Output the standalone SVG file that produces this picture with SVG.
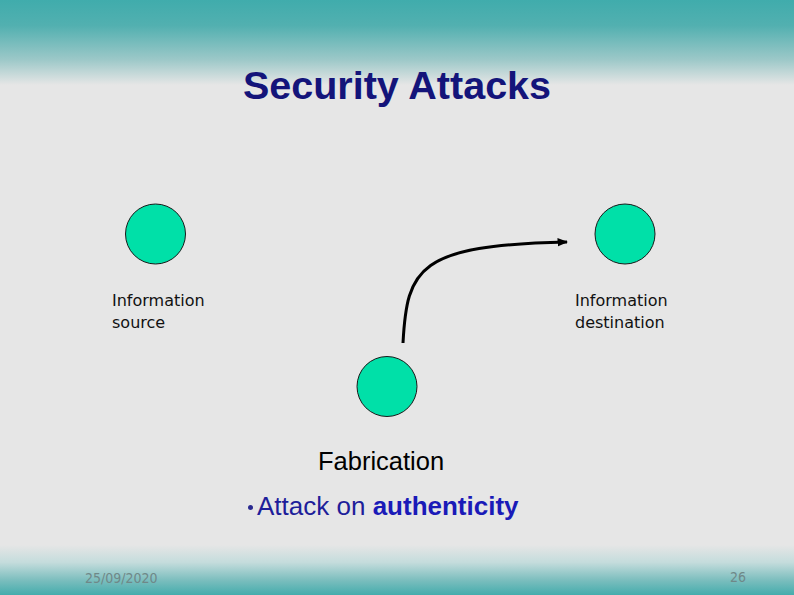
<svg xmlns="http://www.w3.org/2000/svg" width="794" height="595" viewBox="0 0 794 595">
<defs>
<linearGradient id="topg" x1="0" y1="0" x2="0" y2="1">
<stop offset="0" stop-color="#40acac"/>
<stop offset="0.3" stop-color="#52b0b0"/>
<stop offset="0.7" stop-color="#9cc8c8"/>
<stop offset="1" stop-color="#e6e6e6"/>
</linearGradient>
<linearGradient id="botg" x1="0" y1="0" x2="0" y2="1">
<stop offset="0" stop-color="#e6e6e6"/>
<stop offset="0.35" stop-color="#c4dcdc"/>
<stop offset="0.7" stop-color="#7cbebe"/>
<stop offset="1" stop-color="#44acac"/>
</linearGradient>
<marker id="arr" viewBox="0 0 10 10" refX="9" refY="5" markerWidth="3.5" markerHeight="3.5" orient="auto" markerUnits="strokeWidth">
<path d="M0,1 L10,5 L0,9 Z" fill="#000"/>
</marker>
<style>
.node{fill:#00e0a8;stroke:#1a1a1a;stroke-width:1}
.lbl{font-family:"DejaVu Sans",Verdana,sans-serif;font-size:16px;fill:#111}
.foot{font-family:"Liberation Sans Narrow","DejaVu Sans Condensed",sans-serif;font-size:14px;fill:#6f8888}
</style>
</defs>
<rect width="794" height="595" fill="#e6e6e6"/>
<rect width="794" height="85" fill="url(#topg)"/>
<rect y="545" width="794" height="50" fill="url(#botg)"/>
<text x="397" y="99" text-anchor="middle" font-family="Liberation Sans,Arial,sans-serif" font-weight="bold" font-size="39.5" fill="#14147a">Security Attacks</text>
<g id="source">
<circle class="node" cx="155.5" cy="234" r="30"/>
<text class="lbl" x="112" y="306">Information</text>
<text class="lbl" x="112" y="328">source</text>
</g>
<g id="destination">
<circle class="node" cx="625" cy="234" r="30"/>
<text class="lbl" x="575" y="306">Information</text>
<text class="lbl" x="575" y="328">destination</text>
</g>
<g id="attacker">
<circle class="node" cx="387" cy="386.5" r="30"/>
</g>
<g id="connectors">
<path d="M403,343 C407,268 418,245 567,242" fill="none" stroke="#000" stroke-width="3" marker-end="url(#arr)"/>
</g>
<text x="318" y="470" font-family="Liberation Sans,Arial,sans-serif" font-size="25.5" fill="#000">Fabrication</text>
<g font-family="Liberation Sans,Arial,sans-serif" font-size="26">
<circle cx="250.5" cy="507.5" r="2.5" fill="#2a2a90"/>
<text x="257" y="515" fill="#1e1e9a">Attack on <tspan font-weight="bold" fill="#1a1ab8">authenticity</tspan></text>
</g>
<text class="foot" x="85" y="583">25/09/2020</text>
<text class="foot" x="746" y="582" text-anchor="end">26</text>
</svg>
